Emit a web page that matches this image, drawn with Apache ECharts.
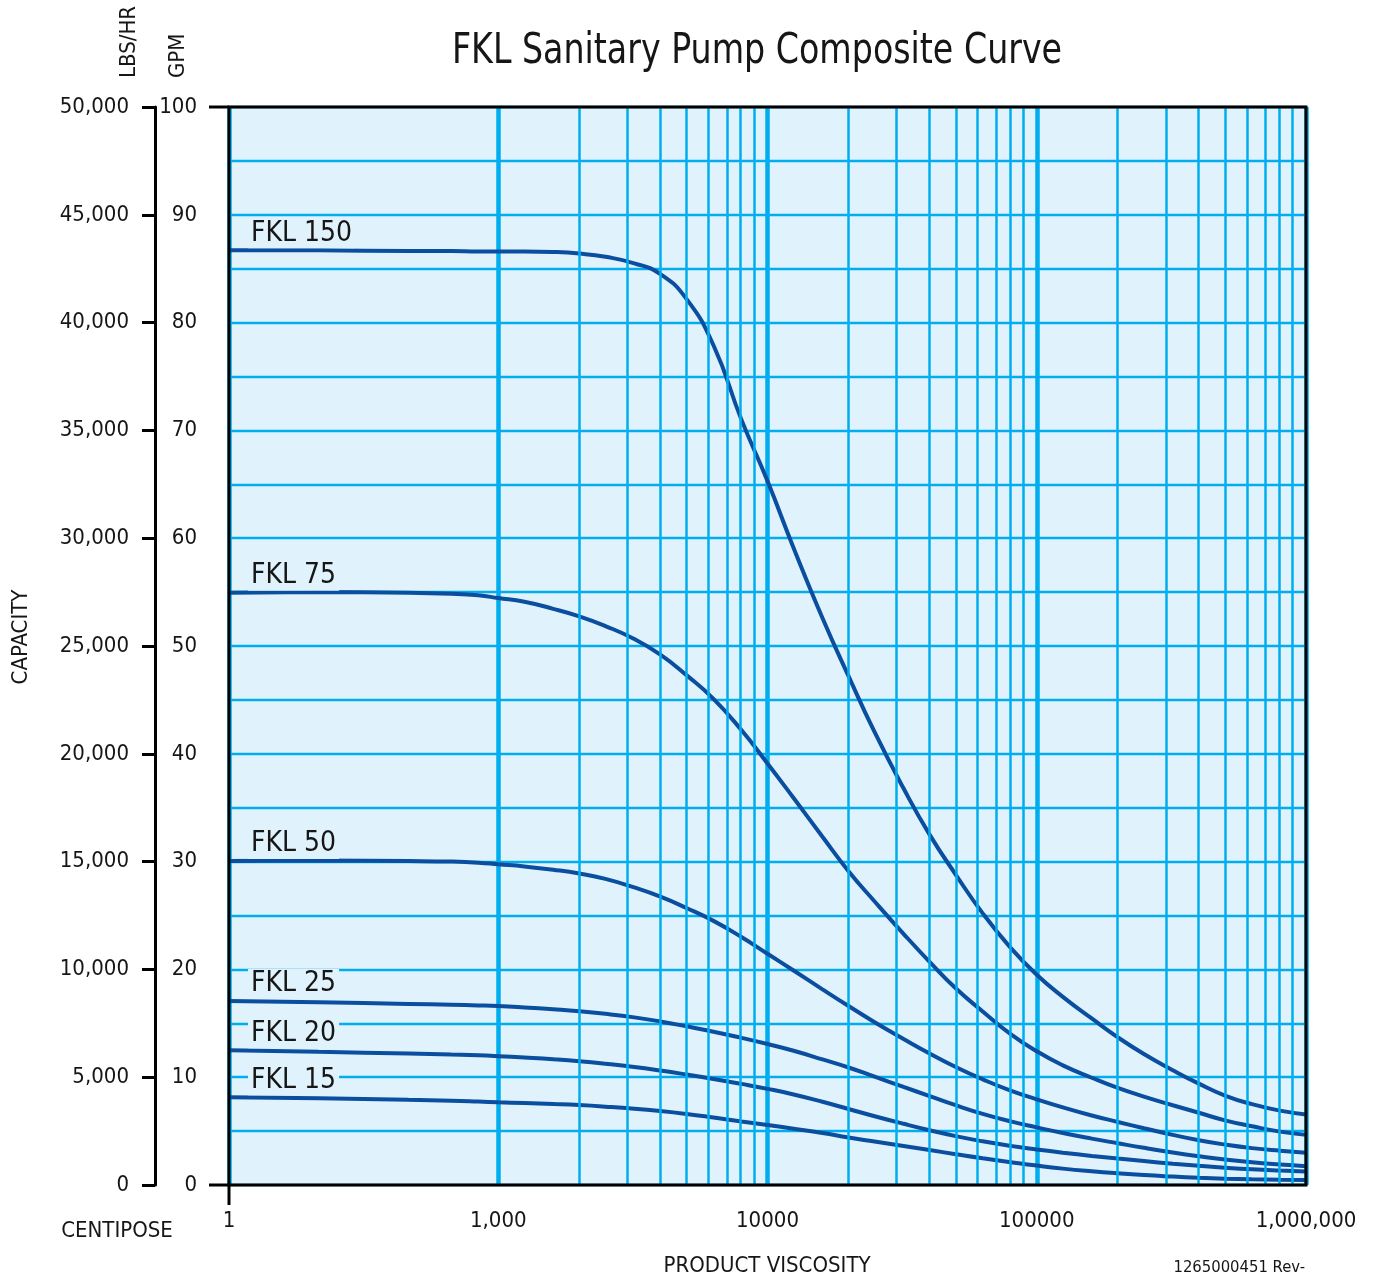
<!DOCTYPE html>
<html><head><meta charset="utf-8">
<script src="https://cdn.jsdelivr.net/npm/echarts@6/dist/echarts.min.js"></script>
<style>html,body{margin:0;padding:0;background:#fff}#c{width:1374px;height:1279px}</style>
</head><body><div id="c"></div>
<script>
// ---- data (viscosity in centipoise, capacity in GPM) ----
const viscosity = [1, 10, 100, 300, 600, 1000, 1250, 1600, 2000, 2500, 3200, 4000, 5000, 6300, 8000,
  10000, 12500, 16000, 20000, 25000, 32000, 40000, 50000, 63000, 80000,
  100000, 125000, 160000, 200000, 250000, 320000, 400000, 500000, 630000, 800000, 1000000];
const fkl150 = [86.7, 86.7, 86.65, 86.65, 86.6, 86.6, 86.6, 86.55, 86.4, 86.1, 85.5, 84.5, 82.2, 77.9, 71.0,
  65.3, 59.1, 52.6, 47.2, 42.0, 36.8, 32.5, 28.8, 25.2, 22.0,
  19.5, 17.45, 15.45, 13.7, 12.15, 10.65, 9.4, 8.3, 7.5, 6.9, 6.55];
const fkl75  = [54.95, 55.0, 54.95, 54.85, 54.7, 54.45, 54.1, 53.45, 52.75, 51.85, 50.65, 49.2, 47.3, 45.1, 42.2,
  39.1, 35.9, 32.3, 29.1, 26.3, 23.3, 20.7, 18.25, 16.1, 14.0,
  12.4, 11.1, 9.95, 9.0, 8.2, 7.4, 6.7, 6.0, 5.45, 4.95, 4.65];
const fkl50  = [30.05, 30.1, 30.05, 30.0, 29.9, 29.75, 29.55, 29.25, 28.9, 28.4, 27.6, 26.75, 25.7, 24.5, 23.0,
  21.45, 19.9, 18.15, 16.6, 15.1, 13.55, 12.2, 10.95, 9.8, 8.75,
  7.95, 7.2, 6.45, 5.85, 5.27, 4.65, 4.15, 3.75, 3.42, 3.18, 3.0];
const fkl25  = [17.07, 16.95, 16.8, 16.72, 16.66, 16.6, 16.47, 16.3, 16.12, 15.88, 15.55, 15.17, 14.72, 14.22, 13.65,
  13.08, 12.45, 11.65, 10.9, 10.05, 9.1, 8.25, 7.4, 6.6, 5.9,
  5.35, 4.82, 4.3, 3.87, 3.45, 3.02, 2.67, 2.36, 2.1, 1.9, 1.75];
const fkl20  = [12.5, 12.35, 12.2, 12.1, 12.03, 11.95, 11.82, 11.66, 11.48, 11.25, 10.95, 10.62, 10.25, 9.84, 9.38,
  8.92, 8.4, 7.72, 7.05, 6.38, 5.68, 5.08, 4.53, 4.05, 3.63,
  3.3, 3.0, 2.7, 2.45, 2.22, 1.98, 1.78, 1.6, 1.45, 1.34, 1.26];
const fkl15  = [8.14, 8.05, 7.9, 7.82, 7.74, 7.67, 7.6, 7.51, 7.41, 7.27, 7.08, 6.86, 6.59, 6.26, 5.9,
  5.57, 5.22, 4.82, 4.4, 4.03, 3.62, 3.24, 2.86, 2.48, 2.12,
  1.8, 1.52, 1.27, 1.08, 0.92, 0.78, 0.67, 0.59, 0.53, 0.49, 0.47];
const seriesNames = ['FKL 150', 'FKL 75', 'FKL 50', 'FKL 25', 'FKL 20', 'FKL 15'];
const xTickLabels = ['1', '1,000', '10000', '100000', '1,000,000'];
const minorViscosity = [2000, 3000, 4000, 5000, 6000, 7000, 8000, 9000,
  20000, 30000, 40000, 50000, 60000, 70000, 80000, 90000,
  200000, 300000, 400000, 500000, 600000, 700000, 800000, 900000];

// x scale of the sheet: 1..1000 squeezed into one division, then one decade per division
function pos(v) { return v <= 1000 ? Math.log10(v) / 3 : Math.log10(v) - 2; }

const FONT = '"DejaVu Sans Condensed", "Liberation Sans", sans-serif';
const GRID = { left: 229, top: 107, right: 68, bottom: 94 };
const W = 1374, H = 1279;
const plotW = W - GRID.left - GRID.right, plotH = H - GRID.top - GRID.bottom;
const GRIDCOL = '#00aeef', BG = '#e0f2fc', CURVE = '#0a4e9f', INK = '#161616';

const allValues = [fkl150, fkl75, fkl50, fkl25, fkl20, fkl15];

const chart = echarts.init(document.getElementById('c'), null, { renderer: 'canvas' });

const curveSeries = allValues.map((arr, k) => ({
  name: seriesNames[k], type: 'line', z: 3, xAxisIndex: 0, yAxisIndex: 0,
  data: viscosity.map((v, i) => [pos(v), arr[i]]),
  smooth: 0.5, showSymbol: false, symbol: 'none',
  lineStyle: { color: CURVE, width: 4 }, silent: true
}));

const option = {
  animation: false,
  backgroundColor: '#fff',
  grid: { left: GRID.left, top: GRID.top, right: GRID.right, bottom: GRID.bottom,
          show: true, backgroundColor: BG, borderWidth: 0 },
  xAxis: {
    type: 'value', min: 0, max: 4, interval: 1,
    axisLine: { show: false },
    axisTick: { show: false },
    axisLabel: { formatter: v => xTickLabels[Math.round(v)] || '', margin: 25,
                 fontFamily: FONT, fontSize: 22, color: INK },
    splitLine: { show: true, lineStyle: { color: GRIDCOL, width: 4.5 } }
  },
  yAxis: [
    {
      type: 'value', position: 'left', min: 0, max: 100, interval: 5,
      axisLine: { show: false },
      axisTick: { show: false },
      axisLabel: { formatter: v => (v % 10 === 0 ? String(v) : ''), margin: 32,
                   fontFamily: FONT, fontSize: 22, color: INK },
      splitLine: { show: true, lineStyle: { color: GRIDCOL, width: 2.4 } }
    },
    {
      type: 'value', position: 'left', offset: 74, min: 0, max: 50000, interval: 5000,
      axisLine: { show: true, lineStyle: { color: '#000', width: 3 } },
      axisTick: { show: true, length: 13, lineStyle: { color: '#000', width: 3 } },
      axisLabel: { formatter: v => v.toLocaleString('en-US'), margin: 26,
                   fontFamily: FONT, fontSize: 22, color: INK },
      splitLine: { show: false }
    }
  ],
  series: [
    {
      type: 'line', z: 2, data: [], silent: true, symbol: 'none',
      markLine: {
        silent: true, symbol: 'none', animation: false,
        label: { show: false },
        lineStyle: { color: GRIDCOL, width: 2.5, type: 'solid' },
        data: minorViscosity.map(v => ({ xAxis: pos(v) }))
      }
    },
    ...curveSeries
  ]
};
chart.setOption(option);

// curve name labels, anchored to each curve's first point
const labelEls = allValues.map((arr, k) => {
  const p = chart.convertToPixel({ gridIndex: 0 }, [pos(viscosity[0]), arr[0]]);
  return {
    type: 'text', z: 50, silent: true,
    x: p[0] + 19, y: p[1] - 17,
    style: { text: seriesNames[k], font: '28px ' + FONT, fill: INK,
             verticalAlign: 'middle', align: 'left',
             backgroundColor: BG, padding: [2, 3, 0, 3] }
  };
});

const px0 = chart.convertToPixel({ gridIndex: 0 }, [0, 0]);
const px100 = chart.convertToPixel({ gridIndex: 0 }, [0, 100]);

chart.setOption({
  graphic: [
    { type: 'rect', z: 60, silent: true,
      shape: { x: GRID.left, y: GRID.top, width: plotW, height: plotH },
      style: { fill: 'none', stroke: '#000', lineWidth: 3 } },
    { type: 'line', z: 60, silent: true, shape: { x1: px0[0] - 20, y1: px0[1], x2: px0[0], y2: px0[1] },
      style: { stroke: '#000', lineWidth: 3 } },
    { type: 'line', z: 60, silent: true, shape: { x1: px100[0] - 20, y1: px100[1], x2: px100[0], y2: px100[1] },
      style: { stroke: '#000', lineWidth: 3 } },
    { type: 'line', z: 60, silent: true, shape: { x1: px0[0], y1: px0[1], x2: px0[0], y2: px0[1] + 20 },
      style: { stroke: '#000', lineWidth: 3 } },
    ...labelEls,
    { type: 'text', silent: true, x: 757, y: 52, scaleX: 0.86,
      style: { text: 'FKL Sanitary Pump Composite Curve', font: '43px ' + FONT, fill: INK,
               align: 'center', verticalAlign: 'middle' } },
    { type: 'text', silent: true, x: 129, y: 78, rotation: Math.PI / 2,
      style: { text: 'LBS/HR', font: '22px ' + FONT, fill: INK, align: 'left', verticalAlign: 'middle' } },
    { type: 'text', silent: true, x: 178, y: 78, rotation: Math.PI / 2,
      style: { text: 'GPM', font: '22px ' + FONT, fill: INK, align: 'left', verticalAlign: 'middle' } },
    { type: 'text', silent: true, x: 21, y: 637, rotation: Math.PI / 2,
      style: { text: 'CAPACITY', font: '22px ' + FONT, fill: INK, align: 'center', verticalAlign: 'middle' } },
    { type: 'text', silent: true, x: 117, y: 1231,
      style: { text: 'CENTIPOSE', font: '22px ' + FONT, fill: INK, align: 'center', verticalAlign: 'middle' } },
    { type: 'text', silent: true, x: 767, y: 1266,
      style: { text: 'PRODUCT VISCOSITY', font: '22px ' + FONT, fill: INK, align: 'center', verticalAlign: 'middle' } },
    { type: 'text', silent: true, x: 1305, y: 1268,
      style: { text: '1265000451 Rev-', font: '16.5px ' + FONT, fill: INK, align: 'right', verticalAlign: 'middle' } }
  ]
});
</script></body></html>
